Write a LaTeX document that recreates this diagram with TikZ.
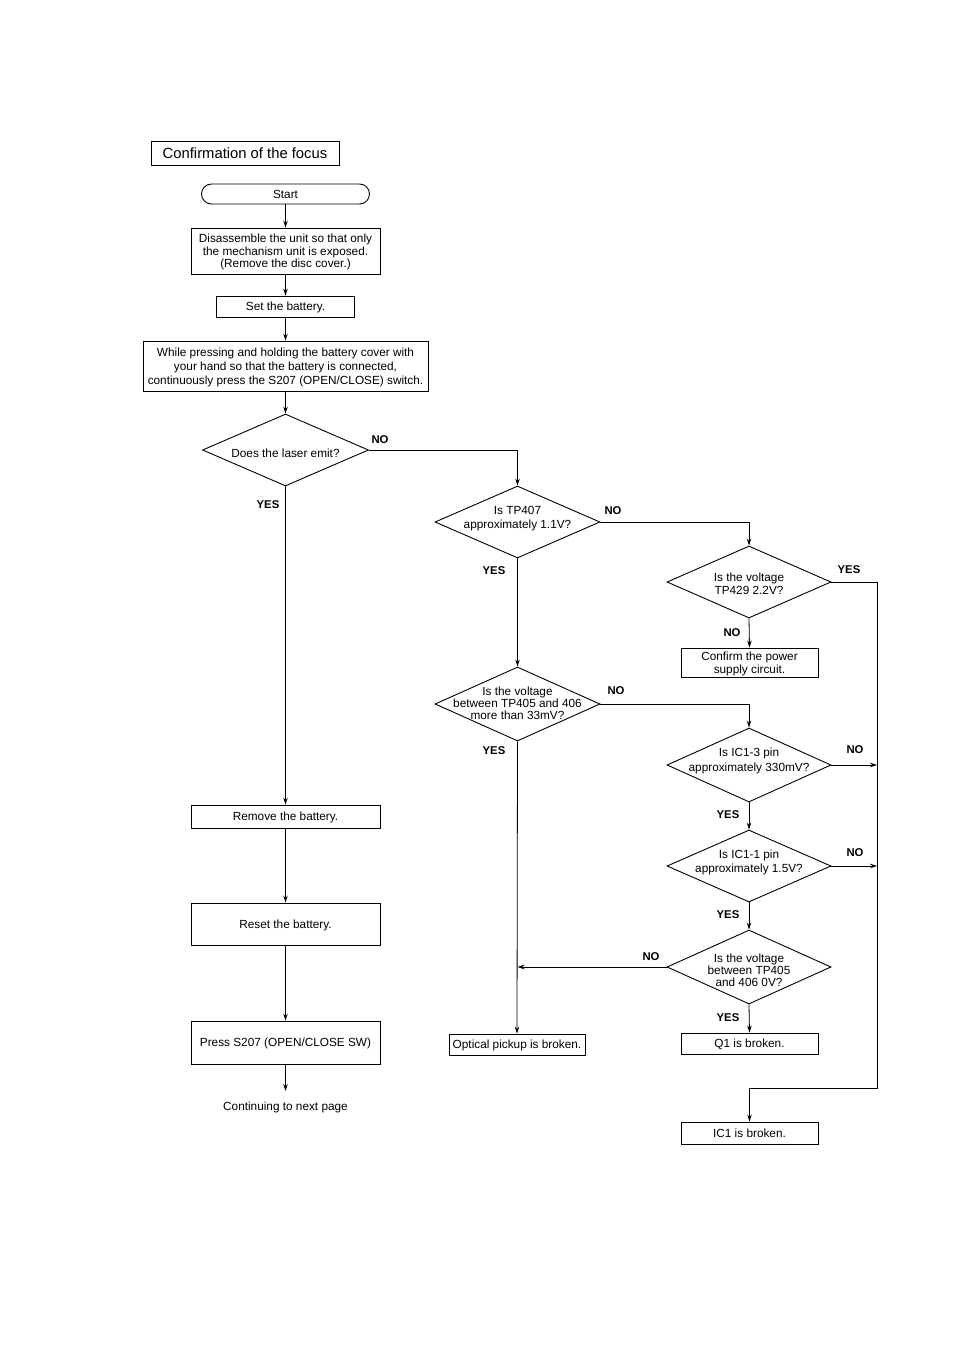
\documentclass[tikz,border=0pt]{standalone}
\usepackage{fontspec}
\setmainfont{Liberation Sans}
\usetikzlibrary{shapes.geometric,arrows.meta}
\begin{document}
\begin{tikzpicture}[x=1pt,y=-1pt,
 every node/.style={font=\fontsize{11.8}{12.5}\selectfont},
 box/.style={draw, line width=0.9pt, inner sep=0pt, align=center, text depth=0pt},
 dia/.style={draw, diamond, line width=0.9pt, inner sep=0pt},
 txt/.style={align=center, inner sep=0pt},
 lab/.style={font=\fontsize{11.3}{12}\selectfont\bfseries, inner sep=0pt},
 arr/.style={line width=0.8pt, -{Stealth[length=7pt,width=4.5pt]}},
 ln/.style={line width=0.8pt}]
\useasboundingbox[fill=white] (0,0) rectangle (954,1349);

\node[box, minimum width=188pt, minimum height=24pt, font=\fontsize{14.8}{16}\selectfont] (title) at (245,153) {Confirmation of the focus};

\node[box, rounded corners=10pt, minimum width=168pt, minimum height=20pt] (start) at (285.5,194) {Start};
\node[box, minimum width=189pt, minimum height=46pt] (b1) at (285.5,251) {Disassemble the unit so that only\\the mechanism unit is exposed.\\(Remove the disc cover.)};
\node[box, minimum width=138pt, minimum height=21pt] (b2) at (285.5,306.5) {Set the battery.};
\node[box, minimum width=285pt, minimum height=50pt, font=\fontsize{11.8}{14.2}\selectfont] (b3) at (285.5,366) {While pressing and holding the battery cover with\\your hand so that the battery is connected,\\continuously press the S207 (OPEN/CLOSE) switch.};

\node[dia, minimum width=166pt, minimum height=72pt] (d1) at (285.5,450) {};
\node[txt] (t1) at (285.5,453) {Does the laser emit?};
\node[dia, minimum width=165pt, minimum height=72pt] (d2) at (517.5,522) {};
\node[txt, font=\fontsize{11.8}{14}\selectfont] (t2) at (517.5,519) {Is TP407\\approximately 1.1V?};
\node[dia, minimum width=164pt, minimum height=72pt] (d3) at (749,582) {};
\node[txt, font=\fontsize{11.8}{13.5}\selectfont] (t3) at (749,584) {Is the voltage\\TP429 2.2V?};
\node[box, minimum width=137pt, minimum height=29pt] (cp) at (749.5,662.5) {Confirm the power\\supply circuit.};

\node[dia, minimum width=165pt, minimum height=74pt] (d4) at (517.5,704) {};
\node[txt, font=\fontsize{11.8}{12}\selectfont] (t4) at (517.5,703) {Is the voltage\\between TP405 and 406\\more than 33mV?};
\node[box, minimum width=136pt, minimum height=21pt] (opt) at (517,1044.5) {Optical pickup is broken.};

\node[dia, minimum width=164pt, minimum height=74pt] (d5) at (749,765) {};
\node[txt, font=\fontsize{11.8}{15}\selectfont] (t5) at (749,761) {Is IC1-3 pin\\approximately 330mV?};
\node[dia, minimum width=164pt, minimum height=72pt] (d6) at (749,866) {};
\node[txt, font=\fontsize{11.8}{14}\selectfont] (t6) at (749,862) {Is IC1-1 pin\\approximately 1.5V?};
\node[dia, minimum width=164pt, minimum height=74pt] (d7) at (749,967) {};
\node[txt, font=\fontsize{11.8}{12}\selectfont] (t7) at (749,970) {Is the voltage\\between TP405\\and 406 0V?};
\node[box, minimum width=137pt, minimum height=21pt] (q1) at (749.5,1043.5) {Q1 is broken.};
\node[box, minimum width=137pt, minimum height=22pt] (ic1) at (749.5,1133) {IC1 is broken.};

\node[box, minimum width=189pt, minimum height=23pt] (rem) at (285.5,816.5) {Remove the battery.};
\node[box, minimum width=189pt, minimum height=42pt] (res) at (285.5,924) {Reset the battery.};
\node[box, minimum width=189pt, minimum height=43pt] (prs) at (285.5,1042.5) {Press S207 (OPEN/CLOSE SW)};
\coordinate (cont) at (285.5,1091);
\node[txt] (contt) at (285.5,1107) {Continuing to next page};

\coordinate (railb) at (877,1088);

% connectors
\draw[arr] (start) -- (b1);
\draw[arr] (b1) -- (b2);
\draw[arr] (b2) -- (b3);
\draw[arr] (b3) -- (d1.north);
\draw[arr] (d1.east) -| (d2.north);
\draw[arr] (d2.east) -| (d3.north);
\draw[arr] (d3.south) -- (cp.north);
\draw[arr] (d2.south) -- (d4.north);
\draw[arr] (d4.east) -| (d5.north);
\draw[arr] (d4.south) -- (opt.north);
\draw[arr] (d5.south) -- (d6.north);
\draw[arr] (d6.south) -- (d7.north);
\draw[arr] (d7.south) -- (q1.north);
\draw[arr] (d3.east) -| (railb) -| (ic1.north);
\draw[arr] (d5.east) -- (d5.east -| railb);
\draw[arr] (d6.east) -- (d6.east -| railb);
\draw[arr] (d7.west) -- (d7.west -| d4.south);
\draw[arr] (d1.south) -- (rem.north);
\draw[arr] (rem) -- (res);
\draw[arr] (res) -- (prs);
\draw[arr] (prs) -- (cont);

% labels
\node[lab] (l1) at (380,440) {NO};
\node[lab] (l2) at (268,505) {YES};
\node[lab] (l3) at (613,511) {NO};
\node[lab] (l4) at (494,571) {YES};
\node[lab] (l5) at (849,570) {YES};
\node[lab] (l6) at (732,633) {NO};
\node[lab] (l7) at (616,691) {NO};
\node[lab] (l8) at (494,751) {YES};
\node[lab] (l9) at (855,750) {NO};
\node[lab] (l10) at (728,815) {YES};
\node[lab] (l11) at (855,853) {NO};
\node[lab] (l12) at (728,915) {YES};
\node[lab] (l13) at (651,957) {NO};
\node[lab] (l14) at (728,1018) {YES};
\end{tikzpicture}
\end{document}
